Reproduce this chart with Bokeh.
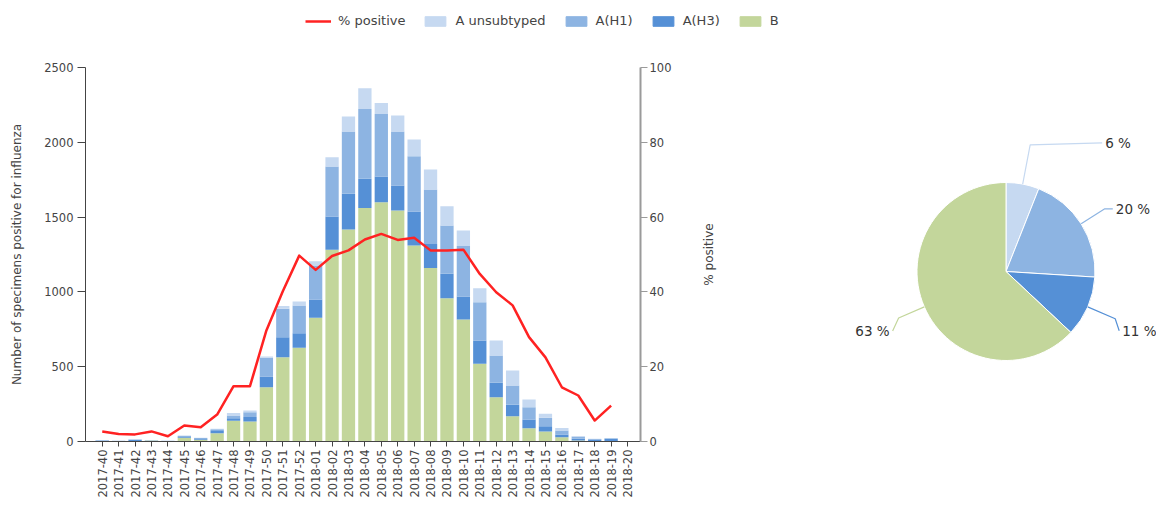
import math
from bokeh.plotting import figure
from bokeh.models import (ColumnDataSource, Range1d, LinearAxis, FixedTicker,
                          Legend, LegendItem)
from bokeh.layouts import row, column
from bokeh.embed import file_html
from bokeh.resources import INLINE
from bokeh.core.properties import value

# ---------------- data ----------------
weeks = ["2017-40", "2017-41", "2017-42", "2017-43", "2017-44", "2017-45", "2017-46",
         "2017-47", "2017-48", "2017-49", "2017-50", "2017-51", "2017-52",
         "2018-01", "2018-02", "2018-03", "2018-04", "2018-05", "2018-06", "2018-07",
         "2018-08", "2018-09", "2018-10", "2018-11", "2018-12", "2018-13", "2018-14",
         "2018-15", "2018-16", "2018-17", "2018-18", "2018-19", "2018-20"]

b_counts = [3, 2, 4, 6, 3, 25, 12, 55, 139, 134, 363, 563, 626,
            827, 1281, 1417, 1560, 1600, 1544, 1310, 1159, 958, 815, 519, 296, 169, 89,
            67, 29, 7, 2, 3, 0]
h3_counts = [4, 2, 7, 2, 1, 5, 5, 20, 17, 29, 71, 134, 98,
             122, 223, 239, 196, 171, 167, 227, 162, 163, 154, 156, 96, 76, 58,
             35, 18, 12, 12, 14, 0]
h1_counts = [2, 1, 3, 1, 1, 7, 6, 7, 18, 33, 126, 190, 185,
             227, 334, 416, 467, 419, 361, 370, 363, 323, 337, 256, 183, 129, 82,
             56, 26, 12, 3, 5, 0]
unsub_counts = [1, 0, 1, 1, 0, 3, 2, 3, 16, 11, 8, 18, 27,
                29, 62, 100, 139, 72, 107, 112, 134, 129, 104, 94, 100, 101, 52,
                27, 18, 5, 1, 2, 0]
pct_positive = [2.7, 2.0, 1.9, 2.7, 1.4, 4.3, 3.8, 7.2, 14.8, 14.8, 29.7, 40.2, 49.7,
                45.9, 49.6, 51.1, 54.0, 55.5, 53.9, 54.5, 51.1, 51.1, 51.3, 44.8, 39.9,
                36.4, 27.9, 22.5, 14.5, 12.3, 5.6, 9.6, float("nan")]

series_names = ["% positive", "A unsubtyped", "A(H1)", "A(H3)", "B"]
right_axis_title = "% positive"
left_axis_title = "Number of specimens positive for influenza"
pie_pct = [6, 20, 11, 63]   # A unsubtyped, A(H1), A(H3), B

# ---------------- styles ----------------
C_UNSUB = "#c6d9f1"
C_H1 = "#8db4e2"
C_H3 = "#5590d6"
C_B = "#c3d69b"
C_RED = "#ff2222"
FONT = "DejaVu Sans"
TXT = "#444444"

LEG_H = 36
BAR_W, PIE_W, FIG_H = 690, 466, 470
TOP, BOTTOM = 67 - LEG_H, 470 - (67 - LEG_H) - 374

x_idx = list(range(len(weeks)))
src = ColumnDataSource(dict(x=x_idx, b=b_counts, h3=h3_counts, h1=h1_counts,
                            u=unsub_counts, pct=pct_positive))

p = figure(width=BAR_W, height=FIG_H, output_backend="svg", toolbar_location=None,
           x_range=Range1d(-1.02, 32.79), y_range=Range1d(0, 2500),
           min_border_left=85, min_border_top=TOP, min_border_right=BAR_W - 640,
           min_border_bottom=BOTTOM, outline_line_color=None)
p.extra_y_ranges = {"pct": Range1d(0, 100)}
p.xgrid.visible = False
p.ygrid.visible = False

bars = p.vbar_stack(["b", "h3", "h1", "u"], x="x", width=0.81,
                    color=[C_B, C_H3, C_H1, C_UNSUB], line_color=None, source=src)
ln = p.line("x", "pct", source=src, y_range_name="pct", line_color=C_RED,
            line_width=2.5, line_join="round")

# x axis
xa = p.xaxis[0]
xa.ticker = FixedTicker(ticks=x_idx)
xa.major_label_overrides = {i: w for i, w in enumerate(weeks)}
xa.major_label_orientation = math.pi / 2
xa.minor_tick_line_color = None
xa.major_tick_out = 5
xa.major_tick_in = 0
xa.major_label_standoff = 3
xa.major_label_text_font = FONT
xa.major_label_text_font_size = "11.5px"
xa.major_label_text_color = TXT
xa.axis_line_color = "#444444"
xa.major_tick_line_color = "#444444"

# left axis
ya = p.yaxis[0]
ya.ticker = FixedTicker(ticks=[0, 500, 1000, 1500, 2000, 2500])
ya.minor_tick_line_color = None
ya.major_tick_out = 8
ya.major_tick_in = 0
ya.major_label_standoff = 4
ya.major_label_text_font = FONT
ya.major_label_text_font_size = "11.5px"
ya.major_label_text_color = TXT
ya.axis_line_color = "#444444"
ya.major_tick_line_color = "#444444"
ya.axis_label = left_axis_title
ya.axis_label_text_font = FONT
ya.axis_label_text_font_size = "12px"
ya.axis_label_text_font_style = "normal"
ya.axis_label_text_color = TXT
ya.axis_label_standoff = 17

# right axis (its title is drawn in the neighbouring panel, reading upwards)
ra = LinearAxis(y_range_name="pct", ticker=FixedTicker(ticks=[0, 20, 40, 60, 80, 100]))
ra.minor_tick_line_color = None
ra.major_tick_out = 7
ra.major_tick_in = 0
ra.major_label_standoff = 2
ra.major_label_text_font = FONT
ra.major_label_text_font_size = "11.5px"
ra.major_label_text_color = TXT
ra.axis_line_color = "#9a9a9a"
ra.axis_line_width = 2
ra.major_tick_line_color = "#9a9a9a"
p.add_layout(ra, "right")

# ---------------- legend strip ----------------
lg = figure(width=BAR_W + PIE_W, height=LEG_H, output_backend="svg",
            toolbar_location=None, x_range=Range1d(0, 1), y_range=Range1d(0, 1),
            x_axis_type=None, y_axis_type=None, min_border=0,
            outline_line_color=None)
lg.xgrid.visible = False
lg.ygrid.visible = False
far = dict(x=[-10], y=[-10])
r_line = lg.line(x=far["x"], y=far["y"], line_color=C_RED, line_width=2.5)
r_u = lg.vbar(x=far["x"], top=far["y"], width=0.1, color=C_UNSUB)
r_h1 = lg.vbar(x=far["x"], top=far["y"], width=0.1, color=C_H1)
r_h3 = lg.vbar(x=far["x"], top=far["y"], width=0.1, color=C_H3)
r_b = lg.vbar(x=far["x"], top=far["y"], width=0.1, color=C_B)
legend = Legend(items=[LegendItem(label=n, renderers=[r])
                       for n, r in zip(series_names, [r_line, r_u, r_h1, r_h3, r_b])],
                orientation="horizontal", location=(305, 8),
                border_line_color=None, background_fill_alpha=0,
                label_text_font=FONT, label_text_font_size="13px",
                label_text_color=TXT, glyph_width=26, glyph_height=12,
                label_standoff=7, spacing=17, padding=0, margin=0)
lg.add_layout(legend)

# ---------------- pie panel ----------------
pie = figure(width=PIE_W, height=FIG_H, output_backend="svg", toolbar_location=None,
             x_range=Range1d(0, PIE_W), y_range=Range1d(0, 374),
             x_axis_type=None, y_axis_type=None, min_border_left=0,
             min_border_right=0, min_border_top=TOP, min_border_bottom=BOTTOM,
             outline_line_color=None)
pie.xgrid.visible = False
pie.ygrid.visible = False

# right-axis title of the bar chart, centred on the axis, reading upwards
pie.text(x=[708 - BAR_W], y=[187], text=[right_axis_title], angle=math.pi / 2,
         text_align="center", text_baseline="middle", text_font=value(FONT),
         text_font_size="12px", text_color=TXT)

cx, cy, r = 1005.5 - BAR_W, 441 - 271, 89
tot = float(sum(pie_pct))
cum = [0.0]
for v in pie_pct:
    cum.append(cum[-1] + v / tot)
starts = [math.pi / 2 - 2 * math.pi * c for c in cum[:-1]]
ends = [math.pi / 2 - 2 * math.pi * c for c in cum[1:]]
colors = [C_UNSUB, C_H1, C_H3, C_B]
psrc = ColumnDataSource(dict(s=starts, e=ends, c=colors))
pie.wedge(x=cx, y=cy, radius=r, radius_units="screen", start_angle="s",
          end_angle="e", direction="clock", fill_color="c", line_color="white",
          line_width=1, source=psrc)

# leader-line styling per slice: elbow distance, horizontal run, drop
elbow = [40, 28, 30, 28]
label_dx = [72, 8, 4, -6]
label_dy = [2, 0, -12, -13]
lxs, lys, txt, aligns = [], [], [], []
for i, v in enumerate(pie_pct):
    mid = math.pi / 2 - 2 * math.pi * (cum[i] + cum[i + 1]) / 2
    ex, ey = cx + r * math.cos(mid), cy + r * math.sin(mid)
    ox, oy = cx + (r + elbow[i]) * math.cos(mid), cy + (r + elbow[i]) * math.sin(mid)
    hx, hy = ox + label_dx[i], oy + label_dy[i]
    pie.line([ex, ox, hx], [ey, oy, hy], line_color=colors[i], line_width=1.2)
    lxs.append(hx + (3 if label_dx[i] > 0 else -3))
    lys.append(hy)
    txt.append(f"{v} %")
    aligns.append("left" if label_dx[i] > 0 else "right")
tsrc = ColumnDataSource(dict(x=lxs, y=lys, t=txt, a=aligns))
pie.text(x="x", y="y", text="t", text_align="a", text_baseline="middle",
         text_font=value(FONT), text_font_size="13.5px", text_color="#333333",
         source=tsrc)

layout = column(lg, row(p, pie, spacing=0), spacing=0)
open("out.html", "w").write(file_html(layout, INLINE))
